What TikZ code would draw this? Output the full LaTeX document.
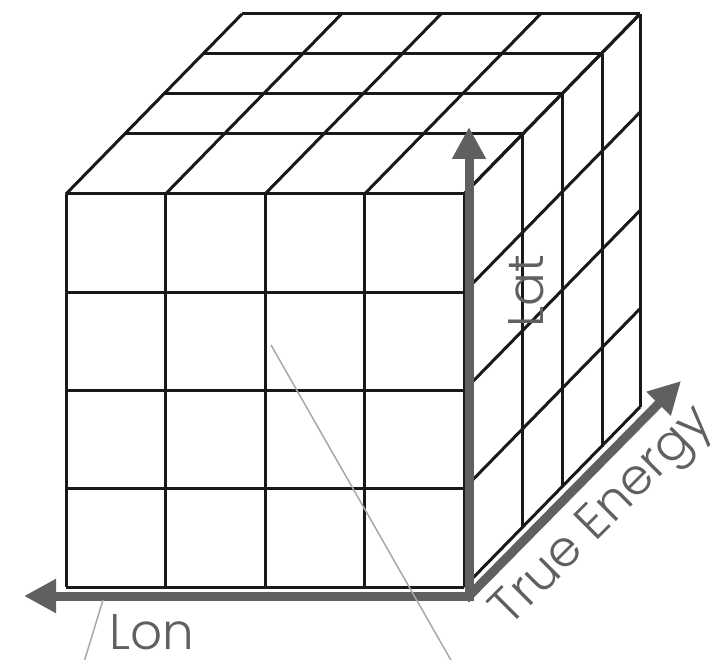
\documentclass[tikz,border=0pt]{standalone}
\usepackage{fontspec}
\IfFontExistsTF{Poppins Light}{\setmainfont{Poppins Light}}{\setmainfont{Poppins}}
\usetikzlibrary{arrows.meta}
\definecolor{axisgray}{HTML}{606060}
\definecolor{leadgray}{HTML}{A8A8A8}

\begin{document}
\begin{tikzpicture}[x=1pt,y=-1pt,
	cell/.style={ draw=black!90, line width=3pt },
	axis/.style={ draw=axisgray, line width=9pt },
	leader/.style={ draw=leadgray, line width=1.5pt },
	lbl/.style={ text=axisgray, inner sep=0pt, font=\fontsize{50}{60}\selectfont }
]
\useasboundingbox (0,0) rectangle (728,660);

% front face
\foreach \x in {66,165.5,265,364.5,464}
  \draw[cell] (\x,194) -- (\x,587);
\foreach \y in {194,292.25,390.5,488.75,587}
  \draw[cell] (66,\y) -- (464,\y);

% top face
\foreach \dx/\dy in {58/60,98/100,138/140,176/180}
  \draw[cell] (66+\dx,194-\dy) -- (464+\dx,194-\dy);
\foreach \x in {66,165.5,265,364.5,464}
  \draw[cell] (\x,194) -- (\x+176,14);

% right face
\foreach \dx/\dy in {58/60,98/100,138/140,176/180}
  \draw[cell] (464+\dx,194-\dy) -- (464+\dx,587-\dy);
\foreach \y in {194,292.25,390.5,488.75,587}
  \draw[cell] (464,\y) -- (640,\y-180);

\coordinate (origin) at (469,596);
\coordinate (lonend) at (24,596);
\coordinate (latend) at (469,127);
\coordinate (energyend) at (681,381);
\draw[axis, {Triangle[length=32pt,width=32pt]}-{Triangle[length=32pt,width=32pt]}]
  (lonend) -- (origin) -- (latend);
\draw[axis, line cap=rect, -{Triangle[length=32pt,width=32pt]}] (origin) -- (energyend);

\node[lbl, rotate=90] (latlabel) at (526,291) {Lat};
\node[lbl] (lonlabel) at (152,632) {Lon};
\node[lbl, rotate=45] (energylabel) at (604,518) {True Energy};

\coordinate (cellmark) at (271,345);
\coordinate (cellout) at (452,662);
\coordinate (edgemark) at (103,600);
\coordinate (edgeout) at (84,662);
\draw[leader] (cellmark) -- (cellout);
\draw[leader] (edgemark) -- (edgeout);

\end{tikzpicture}
\end{document}
